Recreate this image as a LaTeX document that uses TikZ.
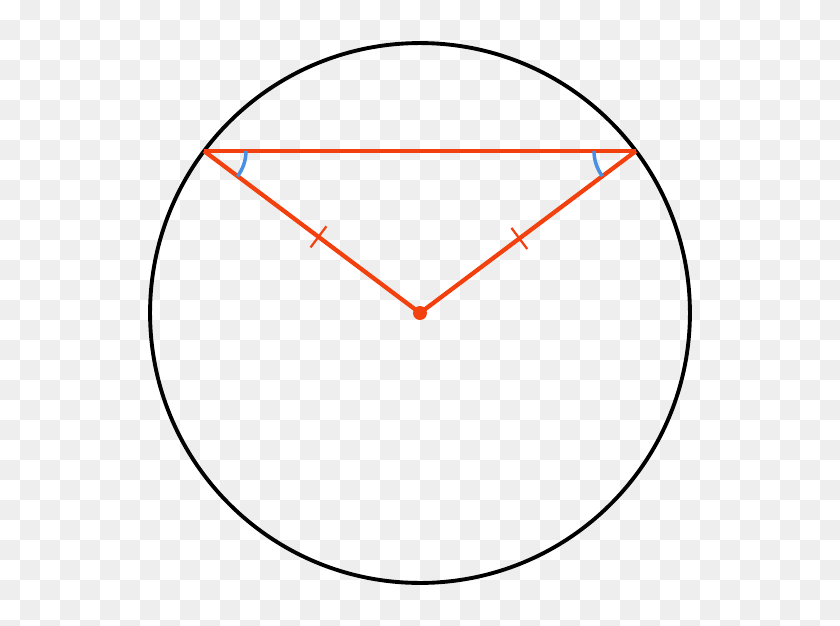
\documentclass[tikz,border=0pt]{standalone}
\usetikzlibrary{calc}
\definecolor{chk}{HTML}{EEEEEE}
\definecolor{redo}{HTML}{F2410F}
\definecolor{angblue}{HTML}{4A90E2}
\tikzset{
  rim/.style={draw=black, line width=2.2pt},
  seg/.style={draw=redo, line width=2.4pt},
  tick/.style={draw=redo, line width=1.3pt},
  angmark/.style={draw=angblue, line width=2pt},
}
\begin{document}
\begin{tikzpicture}[x=0.02cm,y=-0.02cm]
\useasboundingbox (0,0) rectangle (840,626);
\fill[white] (0,0) rectangle (840,626);
\foreach \i in {0,...,41}{
  \foreach \j in {0,...,31}{
    \pgfmathparse{int(mod(\i+\j,2))}
    \ifnum\pgfmathresult=1
      \fill[chk] (\i*20,\j*20) rectangle ++(20,20);
    \fi
  }
}
\coordinate (O) at (420,313);
\coordinate (A) at (204,151);
\coordinate (B) at (636,151);
\draw[rim] (O) circle[radius=5.4cm];
\draw[seg] (A) -- (B);
\draw[seg] (A) -- (O) -- (B);
% angle marks
\draw[angmark] ($(A)+(42,0)$) arc[start angle=0, end angle=-36.87, radius=0.84cm];
\draw[angmark] ($(B)+(-42,0)$) arc[start angle=180, end angle=216.87, radius=0.84cm];
% ticks
\coordinate (TL) at ($(A)!0.53!(O)$);
\coordinate (TR) at ($(B)!0.54!(O)$);
\draw[tick] ($(TL)!7.5pt!90:(O)$) -- ($(TL)!7.5pt!-90:(O)$);
\draw[tick] ($(TR)!7.5pt!90:(O)$) -- ($(TR)!7.5pt!-90:(O)$);
\fill[redo] (O) circle[radius=0.14cm];
\end{tikzpicture}
\end{document}
